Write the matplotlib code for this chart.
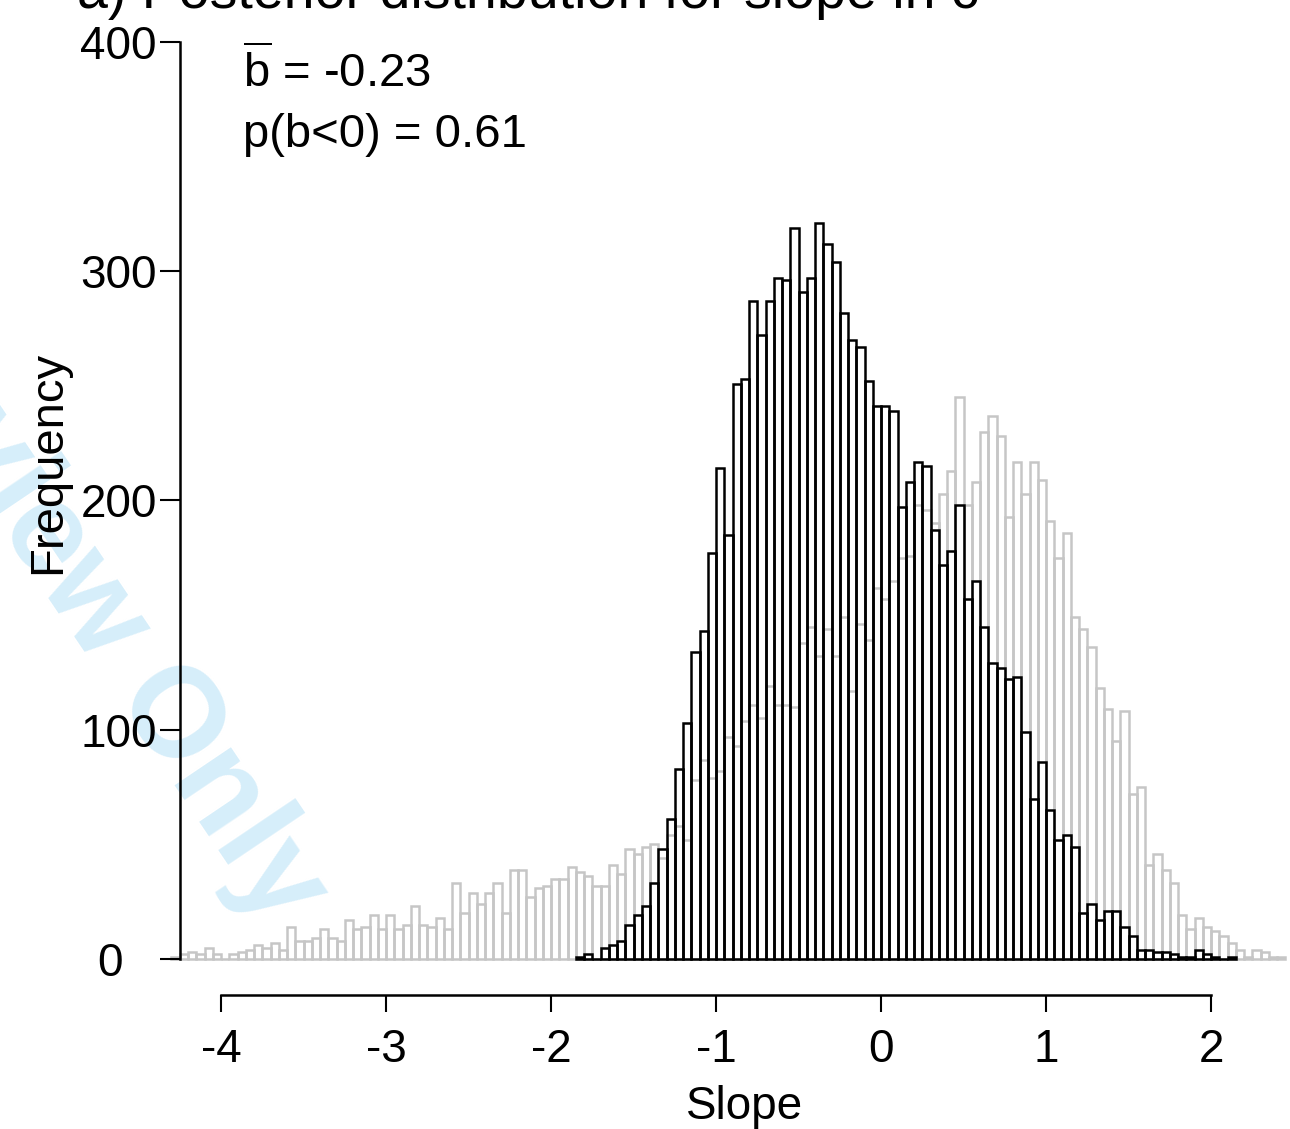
import numpy as np
import matplotlib
matplotlib.use("Agg")
import matplotlib.pyplot as plt
from matplotlib.transforms import ScaledTranslation

plt.rcParams['font.family'] = ['Liberation Sans', 'DejaVu Sans']
plt.rcParams['mathtext.fontset'] = 'custom'
plt.rcParams['mathtext.rm'] = 'Liberation Sans'
plt.rcParams['axes.unicode_minus'] = False

# histogram bins (width 0.05)
bin_width = 0.05
gray_start = -4.30
black_start = -1.85

# prior / other posterior (grey outline)
gray_counts = [1, 2, 3, 2, 5, 2, 0, 2, 3, 4,
               6, 5, 7, 4, 14, 8, 8, 9, 13, 9,
               8, 17, 13, 14, 19, 13, 19, 13, 15, 23,
               15, 14, 18, 13, 33, 20, 29, 24, 29, 33,
               20, 39, 39, 27, 31, 32, 35, 35, 40, 38,
               36, 32, 32, 41, 37, 48, 46, 49, 50, 44,
               54, 58, 52, 78, 87, 79, 82, 97, 93, 104,
               111, 105, 119, 111, 111, 110, 138, 145, 132, 144,
               132, 149, 117, 146, 139, 162, 157, 165, 175, 176,
               198, 196, 190, 203, 213, 245, 198, 208, 230, 237,
               228, 193, 217, 203, 217, 209, 191, 175, 186, 149,
               144, 136, 118, 109, 95, 108, 72, 75, 41, 46,
               39, 33, 19, 13, 18, 14, 12, 10, 7, 4,
               1, 4, 3, 1, 1]

# posterior for slope (black outline)
black_counts = [1, 2, 0, 5, 6, 8, 15, 19, 23, 33,
                48, 61, 83, 103, 134, 143, 177, 214, 185, 251,
                253, 287, 272, 287, 297, 296, 319, 291, 297, 321,
                312, 304, 282, 270, 267, 252, 241, 241, 239, 197,
                208, 217, 215, 187, 172, 178, 198, 157, 165, 145,
                129, 127, 122, 123, 99, 70, 86, 65, 52, 54,
                49, 20, 24, 17, 21, 21, 14, 10, 4, 4,
                3, 3, 2, 1, 1, 4, 2, 1, 0, 1]

x_ticks = [-4, -3, -2, -1, 0, 1, 2]
y_ticks = [0, 100, 200, 300, 400]
mean_slope = -0.23
p_negative = 0.61

fig = plt.figure(figsize=(12.9, 11.29), dpi=100)
ax = fig.add_axes([0.12655, 0.15058, 0.87364, 0.81223])
ax.patch.set_alpha(0)

gray_left = gray_start + bin_width * np.arange(len(gray_counts))
black_left = black_start + bin_width * np.arange(len(black_counts))

ax.bar(gray_left, gray_counts, width=bin_width, align='edge', fill=False,
       edgecolor='#c6c6c6', linewidth=1.8, clip_on=False)
ax.bar(black_left, black_counts, width=bin_width, align='edge', fill=False,
       edgecolor='black', linewidth=1.8, clip_on=False)

ax.set_xlim(-4.35, 2.48)
ax.set_ylim(0, 400)

for side in ['top', 'right']:
    ax.spines[side].set_visible(False)
ax.spines['left'].set_position(('data', -4.25))
ax.spines['left'].set_bounds(0, 400)
ax.spines['bottom'].set_position(('outward', 26))
ax.spines['bottom'].set_bounds(-4, 2)
for side in ['left', 'bottom']:
    ax.spines[side].set_linewidth(1.8)

ax.set_xticks(x_ticks)
ax.set_yticks(y_ticks)
ax.tick_params(axis='y', length=14.4, width=1.5, pad=2, labelsize=33)
ax.tick_params(axis='x', length=12, width=1.5, pad=12, labelsize=33)

# the "0" label sits further left in the original
zero_label = ax.yaxis.get_major_ticks()[0].label1
zero_label.set_transform(zero_label.get_transform()
                         + ScaledTranslation(-0.34, 0, fig.dpi_scale_trans))

ax.set_xlabel('Slope', fontsize=33)
ax.xaxis.set_label_coords(0.516, -0.137)
ax.set_ylabel('Frequency', fontsize=34)
ax.yaxis.set_label_coords(-0.0827, 0.542)

ax.text(-3.867, 380, r'$\overline{\mathrm{b}}$ = ' + f'{mean_slope:.2f}',
        fontsize=34, va='baseline')
ax.text(-3.867, 354, f'p(b<0) = {p_negative:.2f}', fontsize=34, va='baseline')

fig.text(0.0597, 1 - 8 / 1129, 'a) Posterior distribution for slope in c',
         fontsize=40, va='baseline')

fig.text(0.2109, 0.1754, 'For Review Only', fontsize=92, fontweight='bold',
         color='#d6eefa', rotation=-56, rotation_mode='anchor', ha='right',
         va='baseline', zorder=-1)

fig.savefig('out.png', dpi=100)
